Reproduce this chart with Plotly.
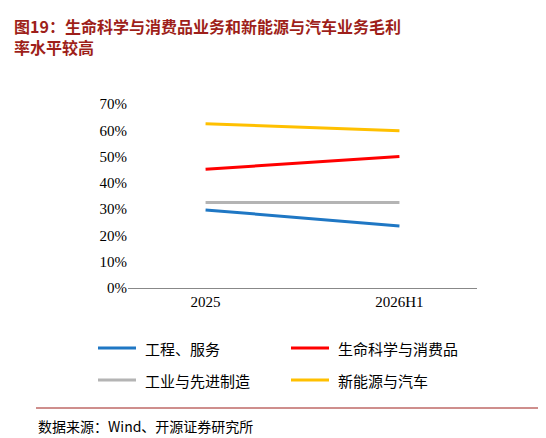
import plotly.graph_objects as go

categories = ["2025", "2026H1"]
series_names = ["工程、服务", "生命科学与消费品", "工业与先进制造", "新能源与汽车"]
series_values = [
    [0.297, 0.236],
    [0.452, 0.500],
    [0.325, 0.325],
    [0.625, 0.598],
]
colors = ["#1F77C4", "#FF0000", "#B4B4B4", "#FFC000"]
y_ticks = [0, 0.1, 0.2, 0.3, 0.4, 0.5, 0.6, 0.7]
y_tick_labels = ["0%", "10%", "20%", "30%", "40%", "50%", "60%", "70%"]

fig = go.Figure()
for name, vals, c in zip(series_names, series_values, colors):
    fig.add_trace(go.Scatter(x=[0, 1], y=vals, mode="lines", name=name,
                             line=dict(color=c, width=3), showlegend=False))

W, H = 546, 438
PW, PH = 349, 184
def px(x): return (x - 120) / PW
def py(y): return (280 - y) / PH

fig.update_layout(
    width=W, height=H, plot_bgcolor="white", paper_bgcolor="white",
    margin=dict(l=120, r=77, t=96, b=158, autoexpand=False),
    font=dict(family="Liberation Serif, Noto Sans CJK SC", size=15, color="black"),
    xaxis=dict(range=[-0.4, 1.4], tickvals=[0, 1], ticktext=categories,
               showgrid=False, showline=True, linecolor="#888", zeroline=False,
               ticks="", automargin=False),
    yaxis=dict(range=[0, 0.7], tickvals=y_ticks, ticktext=y_tick_labels,
               showgrid=False, showline=False, zeroline=False, ticks="", automargin=False),
    showlegend=False,
)
# manual legend (2 columns)
pos = [(90, 340), (283, 340), (90, 372), (283, 372)]
for (lx, ly), name, c in zip(pos, series_names, colors):
    fig.add_shape(type="line", xref="paper", yref="paper",
                  x0=px(lx), x1=px(lx + 38), y0=py(ly), y1=py(ly),
                  line=dict(color=c, width=3))
    fig.add_annotation(xref="paper", yref="paper", x=px(lx + 45), y=py(ly),
                       xanchor="left", yanchor="middle", showarrow=False, text=name,
                       font=dict(family="Noto Sans CJK SC", size=15, color="black"))
fig.add_annotation(xref="paper", yref="paper", x=px(4), y=py(4),
                   xanchor="left", yanchor="top", align="left", showarrow=False,
                   text="<b>图19：生命科学与消费品业务和新能源与汽车业务毛利<br>率水平较高</b>",
                   font=dict(family="Noto Sans CJK SC", size=16, color="#9E1F1A"))
fig.add_shape(type="line", xref="paper", yref="paper",
              x0=px(28), x1=px(540), y0=py(400), y1=py(400),
              line=dict(color="#9E1F1A", width=1))
fig.add_annotation(xref="paper", yref="paper", x=px(28), y=py(418),
                   xanchor="left", yanchor="middle", showarrow=False,
                   text="数据来源：Wind、开源证券研究所",
                   font=dict(family="Noto Sans CJK SC", size=14, color="black"))
fig.write_html("out.html")
